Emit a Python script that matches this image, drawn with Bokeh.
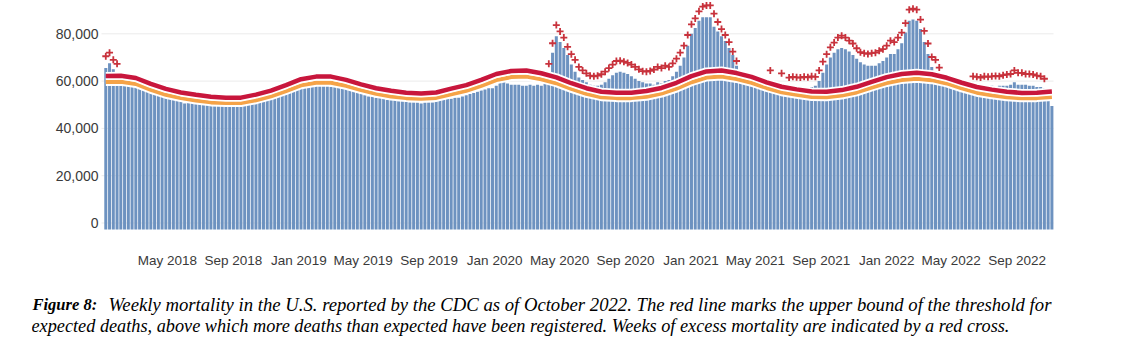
import pandas as pd
from bokeh.plotting import figure
from bokeh.models import Range1d, FixedTicker, NumeralTickFormatter, DatetimeTickFormatter, Label
from bokeh.embed import file_html
from bokeh.resources import INLINE

# ---------------- data (thousands of deaths per week) ----------------
FIRST_WEEK = "2018-01-06"

weekly_deaths_k = [
    # 2018
    65.5, 67.5, 65, 61.5, 60, 59.5, 59, 58.5, 58, 57.5,
    57, 56.5, 56, 55.5, 55.5, 55, 54.5, 54, 54, 53.5,
    52.5, 50.5, 51, 52, 51.5, 51, 51, 50.5, 50.5, 50,
    50, 50, 49.5, 49.5, 50, 49.5, 50, 50, 50.5, 50.5,
    51, 51.5, 52, 52, 52.5, 53, 53.5, 54.5, 55.5, 56.5,
    57, 57.5,
    # 2019
    58, 58.5, 58, 58.5, 58, 58, 58.5, 58, 57.5, 57.5,
    57.5, 57, 57, 56.5, 56.5, 55.5, 54.5, 54, 53.5, 53.5,
    53, 53, 52.5, 52, 52, 52, 51.5, 51.5, 51.5, 51,
    51, 51, 50.5, 51, 51, 51, 51.5, 52, 52, 52.5,
    52.5, 53, 53, 53.5, 54, 54.5, 55, 55.5, 56, 56.5,
    57, 57,
    # 2020
    58, 60, 60, 59, 58.5, 58.5, 58.5, 58, 58, 58.5,
    58, 58.5, 58, 59, 62, 72, 79, 76.5, 74, 71,
    67, 64, 61.5, 60.5, 59.5, 58.5, 58, 58, 58.5, 59.5,
    61, 62.5, 63.5, 64, 63.5, 63, 62, 61, 60, 59.5,
    59, 59, 58.5, 59.5, 59, 60, 60.5, 62, 64, 66.5,
    70, 75,
    # 2021
    80, 82.5, 85.5, 87, 87, 87, 83, 81, 79, 77,
    74, 71, 66.5, 64, 62, 61, 60.5, 60, 59.5, 59,
    58.5, 58, 57.5, 57, 57, 56.5, 56, 56, 56.5, 57,
    56.5, 57, 57.5, 58, 60, 63.5, 67, 70, 72, 73.5,
    74, 73.5, 72.5, 71, 69.5, 68, 67, 66.5, 66.5, 66.5,
    67.5, 68.5,
    # 2022
    70, 71.5, 71.5, 73.5, 76, 80.5, 85.5, 86, 85.5, 82,
    76.5, 71.5, 66, 64, 62, 60.5, 59.5, 59, 58.5, 58,
    57.5, 57, 56.5, 56.5, 56.5, 57, 57.5, 57.5, 58, 57.5,
    58, 58, 58, 58.5, 59.5, 58.5, 58.5, 58.5, 58, 58,
    57.5, 57.5, 57, 55.5, 49.5,
]

# upper bound of expected deaths (red) and expected deaths (orange), every 4 weeks
threshold_k = [
    62.2, 62.3, 61.3, 58.8, 56.7, 55.2, 54.2, 53.4, 53.0, 53.0,
    54.3, 56.0, 58.3, 60.8, 61.9, 61.9, 60.5, 58.6, 57.0, 55.9,
    55.1, 54.8, 55.2, 56.8, 58.3, 60.5, 63.0, 64.3, 64.5, 63.3,
    61.6, 59.1, 57.0, 55.5, 55.1, 55.1, 55.8, 57.1, 59.3, 62.1,
    64.1, 64.5, 63.4, 61.8, 59.5, 57.6, 56.5, 55.6, 55.5, 56.2,
    57.6, 59.7, 61.7, 63.0, 63.5, 62.9, 61.4, 59.3, 57.5, 56.4,
    55.5, 55.0, 55.1, 55.6,
]
expected_k = [
    59.6, 59.7, 58.8, 56.3, 54.2, 52.8, 51.8, 51.0, 50.7, 50.7,
    51.9, 53.6, 55.8, 58.2, 59.3, 59.3, 58.0, 56.2, 54.6, 53.5,
    52.8, 52.5, 52.9, 54.4, 55.9, 58.0, 60.4, 61.7, 61.9, 60.8,
    59.1, 56.7, 54.6, 53.2, 52.8, 52.8, 53.4, 54.7, 56.8, 59.5,
    61.5, 61.9, 60.9, 59.3, 57.1, 55.3, 54.2, 53.3, 53.2, 53.9,
    55.2, 57.3, 59.2, 60.5, 61.0, 60.4, 59.0, 56.9, 55.1, 54.0,
    53.2, 52.7, 52.8, 53.3,
]

# weeks with excess mortality (index of week) and marker height
cross_weeks = ([0, 1, 2, 3] + list(range(118, 169)) + [177, 180]
               + list(range(182, 223)) + list(range(231, 251)))
cross_vals_k = [
    70.5, 72, 69, 67.3,
    67.3, 76, 83.7, 81, 78.4, 74.5, 71.4, 69, 66, 64.5,
    63.3, 62.3, 62, 62.3, 62.9, 64, 65.5, 67, 68.5, 68.6,
    68.2, 67.7, 67, 66, 65, 64.2, 64, 64.3, 64.9, 66,
    65.5, 66.5, 66, 67.5, 69.5, 72, 75, 79.5, 84, 86.5,
    89.5, 91.5, 92, 92, 88.5, 85, 82, 79.5, 76.5, 72.5,
    68.5,
    64.5, 63.3,
    61.5, 61.8, 61.6, 61.5, 61.8, 61.6, 62, 61.8, 64.5, 68.2,
    71.4, 74.3, 76.3, 78.4, 79.2, 78.4, 77.1, 75.9, 73.9, 72.2,
    71.8, 71.5, 71.8, 72, 72.8, 73.5, 75, 77.1, 76.5, 78.4,
    80.5, 84.5, 90.2, 90.6, 90.2, 86, 81.2, 75.9, 70.2, 69,
    65.7,
    62, 61.8, 61.5, 62, 61.8, 62, 62.2, 62, 62.5, 62.8,
    63, 64.5, 63.5, 63.5, 63, 63, 62.8, 62.3, 62, 61,
]

tick_months = ["2018-05-01", "2018-09-01", "2019-01-01", "2019-05-01", "2019-09-01",
               "2020-01-01", "2020-05-01", "2020-09-01", "2021-01-01", "2021-05-01",
               "2021-09-01", "2022-01-01", "2022-05-01", "2022-09-01"]
y_ticks = [0, 20000, 40000, 60000, 80000]

caption_bold = "Figure 8:"
caption_line1 = ("Weekly mortality in the U.S. reported by the CDC as of October 2022. "
                 "The red line marks the upper bound of the threshold for")
caption_line2 = ("expected deaths, above which more deaths than expected have been registered. "
                 "Weeks of excess mortality are indicated by a red cross.")

# ---------------- build ----------------
weeks = pd.date_range(FIRST_WEEK, periods=len(weekly_deaths_k), freq="7D")
line_dates = pd.date_range(FIRST_WEEK, periods=len(threshold_k), freq="28D")
deaths = [v * 1000 for v in weekly_deaths_k]
thr = [v * 1000 for v in threshold_k]
exp_ = [v * 1000 for v in expected_k]
cross_x = [weeks[i] for i in cross_weeks]
cross_y = [v * 1000 for v in cross_vals_k]

def ms(d):
    return pd.Timestamp(d).value / 1e6

# layout geometry (canvas pixels)
W, H = 1137, 346
FRAME_L, FRAME_R, FRAME_B = 31, 1057, 338     # frame also holds the caption
CHART_L, CHART_R = 101, 1053                  # visible chart area
ZERO_Y, PX_PER_K = 222.5, 2.365               # y of value 0 and px per 1000
BAR_BASE_Y = 229

d0, d1 = ms("2017-12-29"), ms("2022-11-08")
px_per_ms = (CHART_R - CHART_L) / (d1 - d0)
x_start = d0 - (CHART_L - FRAME_L) / px_per_ms
x_end = d1 + (FRAME_R - CHART_R) / px_per_ms
y_end = ZERO_Y / PX_PER_K * 1000
y_start = -(FRAME_B - ZERO_Y) / PX_PER_K * 1000
bar_base = -(BAR_BASE_Y - ZERO_Y) / PX_PER_K * 1000

p = figure(width=W, height=H, x_axis_type="datetime",
           x_range=Range1d(x_start, x_end), y_range=Range1d(y_start, y_end),
           toolbar_location=None, output_backend="svg",
           min_border_left=FRAME_L, min_border_right=W - FRAME_R,
           min_border_top=0, min_border_bottom=H - FRAME_B)
p.outline_line_color = None
p.background_fill_color = "white"
p.border_fill_color = "white"
p.xgrid.visible = False
p.ygrid.visible = False

# horizontal grid lines limited to the chart area
p.segment(x0=[d0] * len(y_ticks), x1=[d1] * len(y_ticks), y0=y_ticks, y1=y_ticks,
          line_color="#ebebeb", line_width=1)

p.vbar(x=weeks, top=deaths, bottom=bar_base, width=7 * 86400000 * 0.8,
       fill_color="#6d92c0", line_color=None)

# expected (orange) with white halo
p.line(line_dates, exp_, line_color="white", line_width=8)
p.line(line_dates, exp_, line_color="#f5a348", line_width=4)
# threshold (red) with white halo
p.line(line_dates, thr, line_color="white", line_width=8)
p.line(line_dates, thr, line_color="#c8163c", line_width=4.5)

p.scatter(cross_x, cross_y, marker="cross", size=7, line_width=1.8,
          line_color="#c8323c")

p.yaxis.ticker = FixedTicker(ticks=y_ticks)
p.yaxis.formatter = NumeralTickFormatter(format="0,0")
p.yaxis.axis_line_color = None
p.yaxis.major_tick_line_color = None
p.yaxis.minor_tick_line_color = None
p.yaxis.major_tick_out = 0
p.yaxis.major_tick_in = 0
p.yaxis.minor_tick_out = 0
p.yaxis.minor_tick_in = 0
p.yaxis.major_label_standoff = -(CHART_L - 3 - FRAME_L)
p.yaxis.major_label_text_font = "Liberation Sans"
p.yaxis.major_label_text_font_size = "14px"
p.yaxis.major_label_text_color = "#3a3a3a"

p.xaxis.ticker = FixedTicker(ticks=[ms(t) for t in tick_months])
p.xaxis.formatter = DatetimeTickFormatter(days="%b %Y", months="%b %Y", years="%b %Y")
p.xaxis.axis_line_color = None
p.xaxis.major_tick_line_color = None
p.xaxis.minor_tick_line_color = None
p.xaxis.major_tick_out = 0
p.xaxis.major_tick_in = 0
p.xaxis.minor_tick_out = 0
p.xaxis.minor_tick_in = 0
p.xaxis.major_label_standoff = -(FRAME_B - 252)
p.xaxis.major_label_text_font = "Liberation Sans"
p.xaxis.major_label_text_font_size = "13.5px"
p.xaxis.major_label_text_color = "#3a3a3a"

# caption (screen units relative to the frame's bottom-left corner; y = text middle)
for txt, cx, cy, style, size in [
    (caption_bold, 32, 304, "bold italic", "16.5px"),
    (caption_line1, 108, 304, "italic", "18.7px"),
    (caption_line2, 31, 325, "italic", "18.25px"),
]:
    p.add_layout(Label(x=cx - FRAME_L, y=FRAME_B - cy, x_units="screen", y_units="screen",
                       text=txt, text_font="Liberation Serif", text_font_style=style,
                       text_font_size=size, text_baseline="middle",
                       text_color="black"))

open("out.html", "w").write(file_html(p, INLINE))
